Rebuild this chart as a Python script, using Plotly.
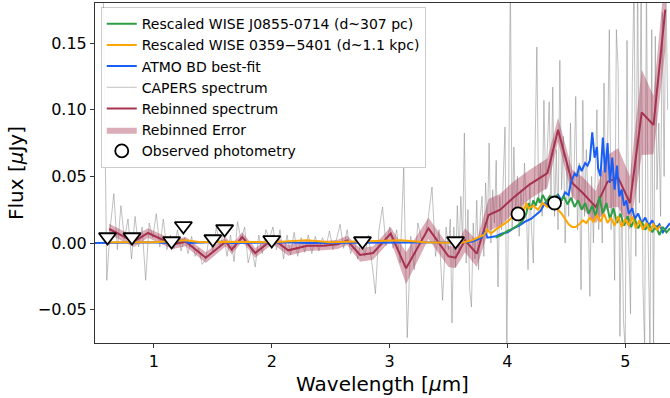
import numpy as np
import plotly.graph_objects as go

# ---------------- data ----------------
# CAPERS spectrum (grey), two sampling segments
capers_a_start, capers_a_step = 0.57, 0.03
capers_flux_a = [0.19, -0.028, 0.012, 0.037, -0.005, 0.028, 0.003, 0.018, -0.012, 0.020,
                 -0.003, 0.012, -0.028, 0.015, 0.004, 0.022, -0.003, 0.018, -0.005, 0.006,
                 -0.004, 0.010, -0.006, 0.004, -0.008, 0.005, -0.010, -0.004, -0.016, -0.012,
                 0.005, -0.006, 0.012, -0.003, 0.008, -0.010, 0.006, -0.014, 0.016, 0.002,
                 0.012, -0.015, -0.004, -0.018, 0.006, -0.008, 0.010, 0.003, 0.012, -0.005,
                 0.010, -0.012, 0.006, -0.009, 0.008, -0.010, 0.004, -0.007, 0.006, -0.008,
                 0.005, -0.006, 0.004, -0.003, 0.009, -0.005, 0.003, 0.014, -0.004, 0.010,
                 -0.008, 0.002, -0.012, 0.004, -0.010, 0.006, -0.015, -0.038, 0.010, 0.027,
                 -0.002, 0.012, -0.004, 0.010, -0.015, 0.057, -0.071, 0.005, -0.020, 0.015,
                 0.003, 0.005, 0.020, 0.042, -0.010, 0.010, -0.043, 0.012]
capers_b_start, capers_b_step = 3.50, 0.015
capers_flux_b = [-0.005, 0.018, -0.060, 0.012, -0.018, 0.028, -0.008, 0.035, 0.000, 0.0825,
                 -0.015, 0.025, -0.035, -0.048, 0.015, -0.012, 0.032, -0.020, 0.020, 0.035,
                 -0.010, 0.045, 0.010, 0.075, 0.000, 0.040, 0.015, 0.062, -0.033, 0.035,
                 0.010, 0.045, 0.087, -0.080, 0.030, 0.200, 0.010, 0.072, 0.020, 0.050,
                 0.005, 0.040, 0.015, 0.060, 0.030, -0.020, 0.045, 0.010, -0.015, 0.070,
                 0.147, 0.030, 0.060, 0.020, 0.107, 0.040, 0.080, 0.106, 0.030, 0.117,
                 0.020, 0.070, 0.010, 0.137, 0.040, 0.080, 0.000, 0.060, 0.020, 0.090,
                 0.030, 0.050, 0.110, 0.010, 0.060, -0.035, 0.107, 0.020, 0.070, 0.030,
                 -0.040, 0.050, 0.000, 0.060, 0.100, 0.010, 0.050, 0.000, 0.120, 0.030,
                 0.070, 0.160, 0.010, 0.060, -0.028, 0.160, 0.130, -0.070, 0.040, -0.058,
                 -0.080, 0.152, 0.000, -0.053, 0.120, 0.200, -0.010, 0.200, 0.030, 0.200,
                 -0.030, -0.080, 0.200, 0.000, -0.080, 0.160, -0.080, 0.155, 0.040, 0.090,
                 0.020, 0.173, 0.050, 0.200, 0.100]

# Rebinned spectrum and error
rebin_wave = [0.62, 0.83, 0.95, 1.08, 1.16, 1.27, 1.44, 1.61, 1.66, 1.75, 1.86, 2.01, 2.14,
              2.30, 2.44, 2.56, 2.64, 2.75, 2.86, 3.01, 3.14, 3.33, 3.50, 3.56, 3.64, 3.74,
              3.84, 3.94, 4.05, 4.19, 4.34, 4.43, 4.55, 4.64, 4.75, 4.85, 4.94, 5.04, 5.14,
              5.24, 5.34]
rebin_flux = [0.0105, 0.001, 0.0075, 0.002, -0.001, 0.001, -0.011, 0.001, -0.005, 0.0045,
              -0.0075, 0.003, -0.0055, -0.002, -0.002, -0.001, 0.002, -0.009, -0.0075, 0.007,
              -0.019, 0.011, -0.010, -0.011, 0.002, -0.008, 0.021, 0.025, 0.034, 0.044,
              0.0525, 0.085, 0.045, 0.0375, 0.027, 0.046, 0.049, 0.030, 0.098, 0.0885, 0.175]
rebin_err = [0.004, 0.004, 0.0035, 0.0035, 0.0035, 0.0035, 0.004, 0.0035, 0.0035, 0.0035,
             0.0035, 0.0035, 0.004, 0.004, 0.0035, 0.0035, 0.0035, 0.005, 0.005, 0.005,
             0.012, 0.008, 0.008, 0.008, 0.009, 0.010, 0.012, 0.012, 0.012, 0.011,
             0.011, 0.009, 0.010, 0.012, 0.012, 0.020, 0.022, 0.020, 0.032, 0.022, 0.030]

# ATMO best-fit (blue)
atmo_wave = [0.50, 1.00, 1.10, 1.25, 1.30, 1.58, 1.65, 2.10, 2.30, 3.00, 3.50,
             3.60, 3.70, 3.78, 3.81, 3.83, 3.90, 3.95, 4.00, 4.05, 4.10, 4.15, 4.20, 4.25,
             4.28, 4.32, 4.35, 4.37, 4.40, 4.43, 4.46, 4.49, 4.52, 4.54, 4.57, 4.59, 4.61,
             4.63, 4.66, 4.68, 4.70, 4.72, 4.74, 4.76, 4.77, 4.79, 4.81, 4.83, 4.85, 4.87,
             4.89, 4.91, 4.93, 4.95, 4.97, 4.99, 5.01, 5.03, 5.06, 5.08, 5.11, 5.14, 5.17,
             5.20, 5.23, 5.26, 5.29, 5.32, 5.35, 5.38]
atmo_flux = [0.0, 0.0005, 0.0, 0.002, 0.0, 0.001, 0.0, 0.0005, 0.0, 0.0, 0.0,
             0.0005, 0.001, 0.004, 0.009, 0.004, 0.005, 0.007, 0.008, 0.011, 0.013, 0.016,
             0.018, 0.022, 0.024, 0.030, 0.028, 0.034, 0.031, 0.036, 0.032, 0.038, 0.036,
             0.046, 0.052, 0.050, 0.058, 0.054, 0.060, 0.058, 0.062, 0.083, 0.064, 0.072,
             0.056, 0.050, 0.079, 0.053, 0.075, 0.045, 0.064, 0.040, 0.058, 0.035, 0.040,
             0.028, 0.032, 0.022, 0.026, 0.018, 0.022, 0.015, 0.019, 0.013, 0.017, 0.011,
             0.014, 0.008, 0.012, 0.015]

# Rescaled WISE J0855-0714 (green)
j0855_wave = [3.90, 3.95, 4.00, 4.05, 4.10, 4.13, 4.16, 4.18, 4.20, 4.22, 4.24, 4.26, 4.28,
              4.30, 4.33, 4.36, 4.39, 4.42, 4.45, 4.48, 4.51, 4.54, 4.57, 4.60, 4.63, 4.66,
              4.69, 4.72, 4.75, 4.78, 4.81, 4.84, 4.87, 4.90, 4.93, 4.96, 4.99, 5.02, 5.05,
              5.08, 5.11, 5.14, 5.17, 5.20, 5.23, 5.26, 5.29, 5.32, 5.35, 5.38]
j0855_flux = [0.004, 0.006, 0.009, 0.011, 0.014, 0.017, 0.022, 0.030, 0.025, 0.032, 0.028,
              0.034, 0.030, 0.036, 0.031, 0.035, 0.030, 0.036, 0.031, 0.035, 0.029, 0.034,
              0.027, 0.032, 0.025, 0.030, 0.022, 0.028, 0.020, 0.035, 0.022, 0.030, 0.018,
              0.026, 0.015, 0.022, 0.013, 0.020, 0.012, 0.018, 0.011, 0.016, 0.010, 0.014,
              0.008, 0.013, 0.006, 0.012, 0.008, 0.011]

# Rescaled WISE 0359-5401 (orange)
w0359_wave = [0.61, 1.00, 1.27, 1.40, 1.60, 2.00, 2.30, 2.50, 3.10, 3.30, 3.60, 3.70, 3.75,
              3.80, 3.83, 3.86, 3.90, 3.95, 4.00, 4.05, 4.08, 4.12, 4.14, 4.16, 4.18, 4.22,
              4.26, 4.30, 4.34, 4.38, 4.42, 4.46, 4.49, 4.52, 4.55, 4.58, 4.61, 4.64, 4.67,
              4.70, 4.73, 4.76, 4.79, 4.82, 4.85, 4.88, 4.91, 4.94, 4.97, 5.00, 5.03, 5.06,
              5.09, 5.12, 5.15, 5.18, 5.21, 5.24, 5.27, 5.30]
w0359_flux = [0.0005, 0.0005, 0.002, 0.0005, 0.001, 0.0005, 0.002, 0.0005, 0.002, 0.0005,
              0.000, 0.002, 0.004, 0.006, 0.010, 0.007, 0.010, 0.013, 0.016, 0.020, 0.022,
              0.027, 0.024, 0.030, 0.026, 0.028, 0.025, 0.030, 0.027, 0.031, 0.026, 0.022,
              0.018, 0.014, 0.012, 0.012, 0.014, 0.017, 0.015, 0.019, 0.016, 0.021, 0.016,
              0.022, 0.015, 0.019, 0.013, 0.020, 0.012, 0.018, 0.013, 0.020, 0.011, 0.017,
              0.010, 0.015, 0.009, 0.014, 0.010, 0.013]

# Photometry: upper limits and detections
ulim_wave = [0.606, 0.814, 1.15, 1.25, 1.50, 1.60, 2.00, 2.77, 3.56]
ulim_flux = [0.0045, 0.0045, 0.0015, 0.0128, 0.003, 0.0105, 0.0023, 0.0015, 0.0015]
det_wave = [4.09, 4.40]
det_flux = [0.0218, 0.0300]
det_err = [0.003, 0.002]

# ---------------- figure ----------------
capers_wave = ([round(capers_a_start + i * capers_a_step, 4) for i in range(len(capers_flux_a))]
               + [round(capers_b_start + i * capers_b_step, 4) for i in range(len(capers_flux_b))])
capers_flux = capers_flux_a + capers_flux_b

RED = "#a5324f"
fig = go.Figure()

fig.add_trace(go.Scatter(x=capers_wave, y=capers_flux, mode="lines",
                         line=dict(color="rgba(140,140,140,0.55)", width=1),
                         name="CAPERS spectrum", legendrank=4))

upper = [f + e for f, e in zip(rebin_flux, rebin_err)]
lower = [f - e for f, e in zip(rebin_flux, rebin_err)]
fig.add_trace(go.Scatter(x=rebin_wave + rebin_wave[::-1], y=upper + lower[::-1],
                         fill="toself", fillcolor="rgba(165,50,79,0.4)",
                         line=dict(width=0, color="rgba(165,50,79,0.4)"), mode="lines",
                         name="Rebinned Error", legendrank=6, hoverinfo="skip"))
fig.add_trace(go.Scatter(x=rebin_wave, y=rebin_flux, mode="lines",
                         line=dict(color=RED, width=2), name="Rebinned spectrum", legendrank=5))

fig.add_trace(go.Scatter(x=atmo_wave, y=atmo_flux, mode="lines",
                         line=dict(color="#1a5ff5", width=2), name="ATMO BD best-fit", legendrank=3))
fig.add_trace(go.Scatter(x=j0855_wave, y=j0855_flux, mode="lines",
                         line=dict(color="#2e9e44", width=2),
                         name="Rescaled WISE J0855-0714 (d~307 pc)", legendrank=1))
fig.add_trace(go.Scatter(x=w0359_wave, y=w0359_flux, mode="lines",
                         line=dict(color="#ffa500", width=2),
                         name="Rescaled WISE 0359\u22125401 (d~1.1 kpc)", legendrank=2))

fig.add_trace(go.Scatter(x=ulim_wave, y=ulim_flux, mode="markers",
                         marker=dict(symbol="triangle-down", size=15, color="white",
                                     line=dict(color="black", width=1.8)),
                         showlegend=False))
fig.add_trace(go.Scatter(x=det_wave, y=det_flux, mode="markers",
                         error_y=dict(type="data", array=det_err, color="black",
                                      thickness=1.5, width=6),
                         marker=dict(symbol="circle", size=13, color="white",
                                     line=dict(color="black", width=1.8)),
                         name="Observed photometry", legendrank=7))

fig.update_layout(
    width=670, height=398,
    margin=dict(l=95, r=0, t=3, b=55),
    paper_bgcolor="white", plot_bgcolor="white",
    font=dict(family="DejaVu Sans", size=16, color="black"),
    showlegend=True,
    legend=dict(x=0.01, y=0.988, xanchor="left", yanchor="top",
                bgcolor="rgba(255,255,255,0.9)", bordercolor="rgba(0,0,0,0.2)",
                borderwidth=1, font=dict(size=14), tracegroupgap=0, itemwidth=30),
)
fig.update_xaxes(range=[0.5, 5.38], tickvals=[1, 2, 3, 4, 5], showgrid=False, zeroline=False,
                 showline=True, linecolor="#333", linewidth=1, mirror=True,
                 ticks="outside", ticklen=4, tickcolor="#333",
                 title=dict(text="Wavelength [<i>μ</i>m]", font=dict(size=20), standoff=6))
fig.update_yaxes(range=[-0.075, 0.18], tickvals=[-0.05, 0, 0.05, 0.10, 0.15],
                 ticktext=["\u22120.05", "0.00", "0.05", "0.10", "0.15"],
                 showgrid=False, zeroline=False,
                 showline=True, linecolor="#333", linewidth=1,
                 ticks="outside", ticklen=4, tickcolor="#333",
                 title=dict(text="Flux [<i>μ</i>Jy]", font=dict(size=20), standoff=8))

fig.write_html("out.html", config={"displayModeBar": False},
               post_script="document.body.style.margin='0';document.body.style.overflow='hidden';")
